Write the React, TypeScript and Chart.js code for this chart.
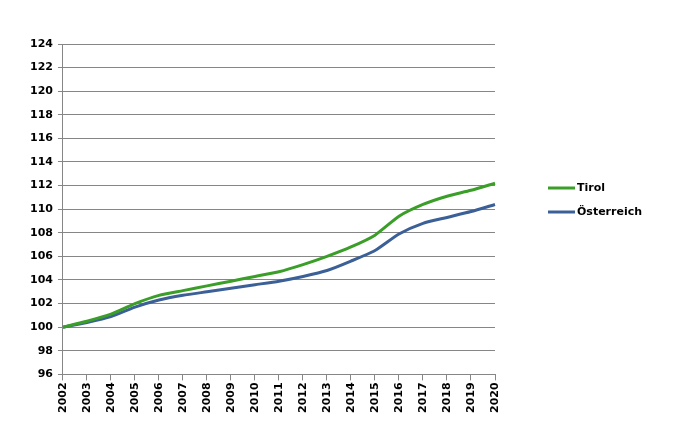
import React, { useEffect, useRef } from "react";
import { Chart, registerables } from "chart.js";

Chart.register(...registerables);

const years = ["2002","2003","2004","2005","2006","2007","2008","2009","2010","2011","2012","2013","2014","2015","2016","2017","2018","2019","2020"];
const tirol = [100, 100.5, 101.1, 102.0, 102.7, 103.1, 103.5, 103.9, 104.3, 104.7, 105.3, 106.0, 106.8, 107.8, 109.4, 110.4, 111.1, 111.6, 112.2];
const oesterreich = [100, 100.4, 100.9, 101.7, 102.3, 102.7, 103.0, 103.3, 103.6, 103.9, 104.3, 104.8, 105.6, 106.5, 107.9, 108.8, 109.3, 109.8, 110.4];
const seriesLabels = ["Tirol", "Österreich"];
const seriesColors = ["#3a9e28", "#3b5f97"];
const yMin = 96;
const yMax = 124;
const yStep = 2;

const FONT = "'DejaVu Sans', Verdana, sans-serif";

const legendPlugin = {
  id: "customLegend",
  afterDraw(chart: any) {
    const ctx = chart.ctx;
    const area = chart.chartArea;
    const x0 = area.right + 53;
    const baseY = 188;
    ctx.save();
    chart.data.datasets.forEach((ds: any, i: number) => {
      const y = baseY + i * 24;
      ctx.strokeStyle = ds.borderColor;
      ctx.lineWidth = 3;
      ctx.beginPath();
      ctx.moveTo(x0, y);
      ctx.lineTo(x0 + 27, y);
      ctx.stroke();
      ctx.fillStyle = "#000";
      ctx.font = `bold 11px ${FONT}`;
      ctx.textBaseline = "middle";
      ctx.textAlign = "left";
      ctx.fillText(ds.label, x0 + 29, y);
    });
    ctx.restore();
  },
};

export default function App() {
  const ref = useRef<HTMLCanvasElement | null>(null);
  useEffect(() => {
    if (!ref.current) return;
    const chart = new Chart(ref.current, {
      type: "line",
      data: {
        labels: years,
        datasets: [
          { label: seriesLabels[0], data: tirol, borderColor: seriesColors[0], backgroundColor: seriesColors[0], borderWidth: 3, pointRadius: 0, tension: 0.2, fill: false },
          { label: seriesLabels[1], data: oesterreich, borderColor: seriesColors[1], backgroundColor: seriesColors[1], borderWidth: 3, pointRadius: 0, tension: 0.2, fill: false },
        ],
      },
      options: {
        animation: false,
        responsive: false,
        maintainAspectRatio: false,
        layout: { padding: { left: 25, right: 191, top: 44, bottom: 15 } },
        plugins: { legend: { display: false }, tooltip: { enabled: false } },
        scales: {
          x: {
            type: "category",
            offset: false,
            grid: { display: true, drawOnChartArea: false, drawTicks: true, tickLength: 6, color: "#868686" },
            border: { display: true, color: "#868686", width: 1 },
            ticks: { color: "#000", font: { family: FONT, size: 11, weight: "bold" }, minRotation: 90, maxRotation: 90, autoSkip: false, padding: 2 },
          },
          y: {
            min: yMin,
            max: yMax,
            grid: { color: "#868686", lineWidth: 1, drawTicks: true, tickLength: 5 },
            border: { display: true, color: "#868686", width: 1 },
            ticks: { stepSize: yStep, color: "#000", font: { family: FONT, size: 11, weight: "bold" }, padding: 5 },
          },
        },
      },
      plugins: [legendPlugin],
    });
    return () => chart.destroy();
  }, []);
  return (
    <div style={{ position: "fixed", left: 0, top: 0, width: 686, height: 430, background: "#fff" }}>
      <canvas ref={ref} width={686} height={430} style={{ width: 686, height: 430 }} />
    </div>
  );
}
